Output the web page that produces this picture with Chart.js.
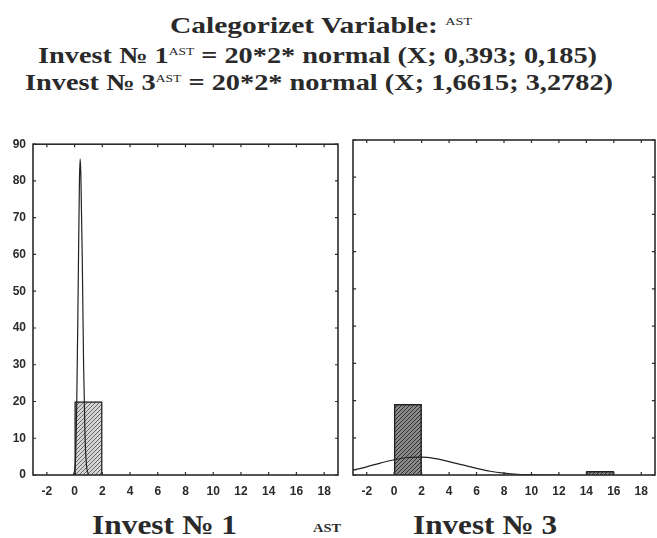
<!DOCTYPE html>
<html>
<head>
<meta charset="utf-8">
<script src="https://cdn.jsdelivr.net/npm/chart.js@4"></script>
<style>
  body { margin: 0; background: #fff; width: 657px; height: 538px; overflow: hidden; position: relative; }
  .t { position: absolute; font-family: "Liberation Serif", serif; font-weight: bold; color: #2a2a2a; white-space: nowrap; line-height: 1; transform-origin: 0 0; }
  .t sup { font-size: 11px; vertical-align: 0; position: relative; top: -8px; font-weight: normal; }
  canvas { position: absolute; }
</style>
</head>
<body>
<div class="t" data-x0="170" data-x1="472" style="top:14px;font-size:23px">Calegorizet Variable: <sup>AST</sup></div>
<div class="t" data-x0="38" data-x1="597" style="top:44px;font-size:23px">Invest № 1<sup>AST</sup> = 20*2* normal (X; 0,393; 0,185)</div>
<div class="t" data-x0="25" data-x1="613" style="top:71px;font-size:23px">Invest № 3<sup>AST</sup> = 20*2* normal (X; 1,6615; 3,2782)</div>

<canvas id="c1" width="345" height="375" style="left:0;top:130px"></canvas>
<canvas id="c2" width="312" height="375" style="left:345px;top:130px"></canvas>

<div class="t" data-x0="92" data-x1="237" style="top:512px;font-size:27px">Invest № 1</div>
<div class="t" data-x0="313" data-x1="341" style="top:521px;font-size:13px">AST</div>
<div class="t" data-x0="413" data-x1="557" style="top:512px;font-size:27px">Invest № 3</div>

<script>
// histogram bins (centre of 2-wide class, count)
var bins1X = [1];
var bins1Y = [20];
var bins3X = [1, 15];
var bins3Y = [19, 1];

// fitted normal curves
var curve1X = [-0.1, 0.05, 0.15, 0.25, 0.35, 0.4, 0.45, 0.55, 0.65, 0.75, 0.85, 1.0];
var curve1Y = [0, 3, 18, 48, 80, 86, 82, 60, 30, 11, 3, 0];
var curve3X = [-3, -2, -1, 0, 1, 2, 3, 4, 5, 6, 7, 8, 9, 10, 11, 12];
var curve3Y = [1.3, 2.2, 3.2, 4.1, 4.7, 4.8, 4.4, 3.6, 2.7, 1.8, 1.0, 0.5, 0.2, 0.1, 0, 0];

// axis ticks
var xTicks = [-2, 0, 2, 4, 6, 8, 10, 12, 14, 16, 18];
var yTicks = [0, 10, 20, 30, 40, 50, 60, 70, 80, 90];
var xMin = -3, xMax = 19;
var yMin = 0, yMax = 90;

// stretch the texts to the width they have in the scan
document.querySelectorAll('.t').forEach(function (el) {
  var x0 = +el.dataset.x0, x1 = +el.dataset.x1;
  el.style.left = x0 + 'px';
  var w = el.getBoundingClientRect().width;
  el.style.transform = 'scaleX(' + ((x1 - x0) / w) + ')';
});

function pts(xs, ys) {
  return xs.map(function (x, i) { return { x: x, y: ys[i] }; });
}

function hatch(bg, fg) {
  var c = document.createElement('canvas');
  c.width = 4; c.height = 4;
  var g = c.getContext('2d');
  g.fillStyle = bg; g.fillRect(0, 0, 4, 4);
  g.strokeStyle = fg; g.lineWidth = 1;
  g.beginPath();
  g.moveTo(0, 4); g.lineTo(4, 0);
  g.moveTo(-1, 1); g.lineTo(1, -1);
  g.moveTo(3, 5); g.lineTo(5, 3);
  g.stroke();
  return g.createPattern(c, 'repeat');
}

// box round the plot with small inward ticks
var frame = {
  id: 'frame',
  afterDatasetsDraw: function (chart) {
    var a = chart.chartArea, ctx = chart.ctx;
    var xs = chart.scales.x, ys = chart.scales.y;
    ctx.save();
    ctx.strokeStyle = '#2b2b2b';
    ctx.lineWidth = 1.6;
    ctx.strokeRect(a.left, a.top, a.right - a.left, a.bottom - a.top);
    ctx.lineWidth = 1.2;
    ctx.beginPath();
    xs.ticks.forEach(function (t) {
      var px = xs.getPixelForValue(t.value);
      ctx.moveTo(px, a.top); ctx.lineTo(px, a.top + 3);
      ctx.moveTo(px, a.bottom); ctx.lineTo(px, a.bottom - 3);
    });
    ys.ticks.forEach(function (t) {
      var py = ys.getPixelForValue(t.value);
      ctx.moveTo(a.left, py); ctx.lineTo(a.left + 3, py);
      ctx.moveTo(a.right, py); ctx.lineTo(a.right - 3, py);
    });
    ctx.stroke();
    ctx.restore();
  }
};

var tickFont = { family: 'Liberation Sans', size: 12, weight: 'bold' };

function makeChart(id, bins, curve, fill, showY, yWidth, padRight) {
  return new Chart(document.getElementById(id), {
    type: 'bar',
    data: {
      datasets: [{
        type: 'line',
        data: curve,
        borderColor: '#222',
        borderWidth: 1.2,
        pointRadius: 0,
        cubicInterpolationMode: 'monotone',
        order: 0
      }, {
        type: 'bar',
        data: bins,
        backgroundColor: fill,
        borderColor: '#222',
        borderWidth: 1.5,
        barPercentage: 1,
        categoryPercentage: 1,
        order: 1
      }]
    },
    options: {
      responsive: false,
      animation: false,
      devicePixelRatio: 1,
      layout: { padding: { top: 10, right: padRight, left: 0, bottom: 0 } },
      plugins: { legend: { display: false }, tooltip: { enabled: false } },
      scales: {
        x: {
          type: 'linear', min: xMin, max: xMax, offset: false,
          grid: { display: false, drawTicks: false },
          border: { display: false },
          afterBuildTicks: function (s) {
            s.ticks = xTicks.map(function (v) { return { value: v }; });
          },
          afterFit: function (s) { s.height = 30; },
          ticks: { padding: 9, font: tickFont, color: '#2a2a2a', maxRotation: 0, autoSkip: false }
        },
        y: {
          min: yMin, max: yMax,
          grid: { display: false, drawTicks: false },
          border: { display: false },
          afterBuildTicks: function (s) {
            s.ticks = yTicks.map(function (v) { return { value: v }; });
          },
          afterFit: function (s) { s.width = yWidth; },
          ticks: { display: showY, padding: 7, font: tickFont, color: '#2a2a2a' }
        }
      }
    },
    plugins: [frame]
  });
}

makeChart('c1', pts(bins1X, bins1Y), pts(curve1X, curve1Y), hatch('#d4d4d4', '#6a6a6a'), true, 33, 7);
makeChart('c2', pts(bins3X, bins3Y), pts(curve3X, curve3Y), hatch('#8a8a8a', '#303030'), false, 8, 1);
</script>
</body>
</html>
